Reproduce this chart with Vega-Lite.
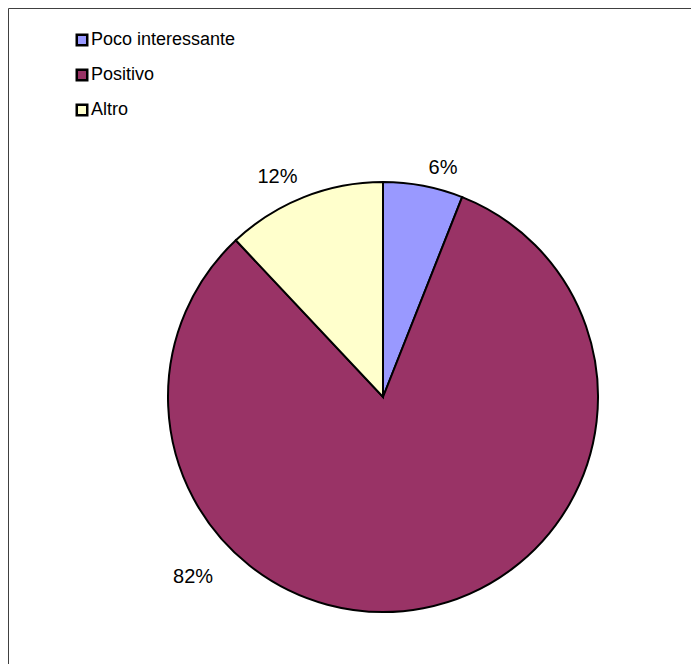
{
  "$schema": "https://vega.github.io/schema/vega-lite/v6.json",
  "autosize": {"type": "fit", "contains": "padding"},
  "width": 691,
  "height": 664,
  "padding": {"left": 8, "top": 8, "right": -67, "bottom": -122},
  "background": "white",
  "view": {"stroke": "#404040", "strokeWidth": 1},
  "config": {
    "view": {"stroke": "#404040", "strokeWidth": 1},
    "font": "Liberation Sans"
  },
  "data": {
    "values": [
      {"cat": "Poco interessante", "value": 6, "k": 1, "label": "6%"},
      {"cat": "Positivo", "value": 82, "k": 2, "label": "82%"},
      {"cat": "Altro", "value": 12, "k": 3, "label": "12%"}
    ]
  },
  "encoding": {
    "theta": {"field": "value", "type": "quantitative", "stack": true},
    "order": {"field": "k", "type": "quantitative"}
  },
  "layer": [
    {
      "mark": {"type": "arc", "outerRadius": 215, "stroke": "black", "strokeWidth": 2},
      "encoding": {
        "color": {
          "field": "cat",
          "type": "nominal",
          "scale": {"domain": ["Poco interessante", "Positivo", "Altro"], "range": ["#9999FF", "#993366", "#FFFFCC"]},
          "legend": {
            "title": null,
            "orient": "none",
            "legendX": 65,
            "legendY": 23,
            "padding": 0,
            "symbolType": "square",
            "symbolSize": 110,
            "symbolStrokeColor": "black",
            "symbolStrokeWidth": 2.5,
            "symbolOpacity": 1,
            "labelFontSize": 18,
            "labelFont": "Liberation Sans",
            "labelColor": "black",
            "labelOffset": 0,
            "rowPadding": 13,
            "labelLimit": 400
          }
        }
      }
    },
    {
      "mark": {"type": "text", "radius": 235, "fontSize": 20, "font": "Liberation Sans", "color": "black", "align": "center", "baseline": "middle", "dx": 16, "dy": 2},
      "encoding": {
        "text": {"condition": {"test": "datum.cat == 'Poco interessante'", "field": "label"}, "value": ""}
      }
    },
    {
      "mark": {"type": "text", "radius": 235, "fontSize": 20, "font": "Liberation Sans", "color": "black", "align": "center", "baseline": "middle", "dx": -234, "dy": -51},
      "encoding": {
        "text": {"condition": {"test": "datum.cat == 'Positivo'", "field": "label"}, "value": ""}
      }
    },
    {
      "mark": {"type": "text", "radius": 235, "fontSize": 20, "font": "Liberation Sans", "color": "black", "align": "center", "baseline": "middle", "dx": -19, "dy": -2},
      "encoding": {
        "text": {"condition": {"test": "datum.cat == 'Altro'", "field": "label"}, "value": ""}
      }
    }
  ]
}
